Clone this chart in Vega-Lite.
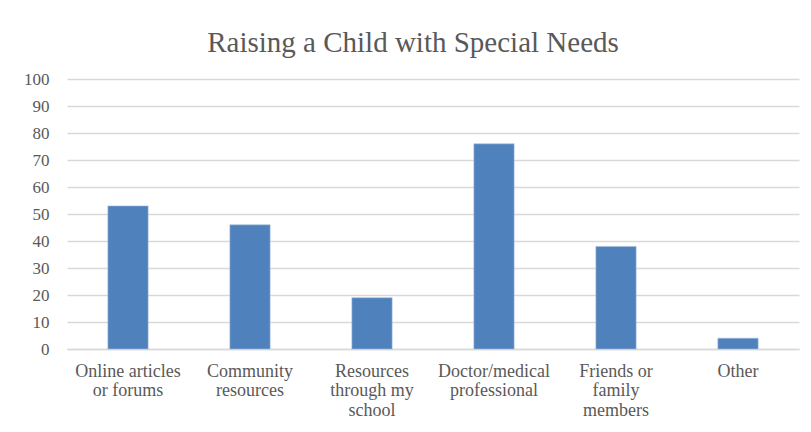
{
  "$schema": "https://vega.github.io/schema/vega-lite/v6.json",
  "width": 732,
  "height": 270,
  "autosize": {"type": "none"},
  "padding": {"left": 67, "top": 79, "right": 12, "bottom": 83},
  "background": "white",
  "title": {
    "text": "Raising a Child with Special Needs",
    "font": "Liberation Serif",
    "fontSize": 29,
    "fontWeight": "normal",
    "color": "#595959",
    "anchor": "middle",
    "frame": "group",
    "dx": -20,
    "offset": 12
  },
  "data": {
    "values": [
      {"source": "Online articles|or forums", "value": 53},
      {"source": "Community|resources", "value": 46},
      {"source": "Resources|through my|school", "value": 19},
      {"source": "Doctor/medical|professional", "value": 76},
      {"source": "Friends or|family|members", "value": 38},
      {"source": "Other", "value": 4}
    ]
  },
  "mark": {"type": "bar", "color": "#4F81BD", "stroke": "#A9C0DE", "strokeWidth": 0.6},
  "encoding": {
    "x": {
      "field": "source",
      "type": "nominal",
      "sort": null,
      "scale": {"paddingInner": 0.67, "paddingOuter": 0.335},
      "axis": {
        "title": null,
        "labelAngle": 0,
        "labelExpr": "split(datum.label, '|')",
        "labelFont": "Liberation Serif",
        "labelFontSize": 18,
        "labelColor": "#595959",
        "labelLineHeight": 19.5,
        "labelPadding": 13,
        "ticks": false,
        "domainColor": "#D9D9D9",
        "domainWidth": 1.3,
        "labelLimit": 200
      }
    },
    "y": {
      "field": "value",
      "type": "quantitative",
      "scale": {"domain": [0, 100]},
      "axis": {
        "title": null,
        "values": [0, 10, 20, 30, 40, 50, 60, 70, 80, 90, 100],
        "labelFont": "Liberation Serif",
        "labelFontSize": 17,
        "labelColor": "#595959",
        "labelPadding": 18,
        "ticks": false,
        "domain": false,
        "gridColor": "#D9D9D9",
        "gridWidth": 1.3
      }
    }
  },
  "config": {"view": {"stroke": null}}
}
